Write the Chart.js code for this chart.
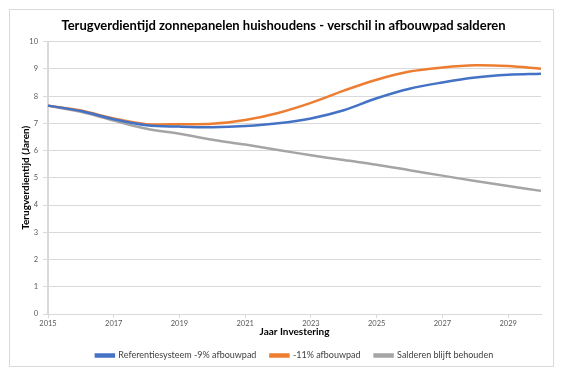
<!DOCTYPE html>
<html>
<head>
<meta charset="utf-8">
<script src="https://cdn.jsdelivr.net/npm/chart.js@4/dist/chart.umd.min.js"></script>
<style>
  html, body { margin: 0; padding: 0; background: #fff; }
  #frame {
    position: absolute; left: 9px; top: 9px;
    width: 545px; height: 358px;
    border: 1px solid #d9d9d9; box-sizing: border-box;
  }
  #wrap { position: absolute; left: 0; top: 0; width: 543px; height: 356px; }
</style>
</head>
<body>
<div id="frame"><div id="wrap"><canvas id="payback-chart"></canvas></div></div>
<script>
// Data
const years = ['2015', '2016', '2017', '2018', '2019', '2020', '2021', '2022',
               '2023', '2024', '2025', '2026', '2027', '2028', '2029', '2030'];
const referentie9 = [7.65, 7.45, 7.15, 6.93, 6.88, 6.86, 6.90, 7.00,
                     7.18, 7.48, 7.92, 8.27, 8.50, 8.68, 8.78, 8.82];
const afbouw11 = [7.65, 7.47, 7.18, 6.97, 6.97, 6.98, 7.12, 7.38,
                  7.75, 8.20, 8.60, 8.90, 9.05, 9.13, 9.10, 9.00];
const salderenBlijft = [7.65, 7.42, 7.10, 6.80, 6.62, 6.40, 6.22, 6.02,
                        5.83, 5.65, 5.48, 5.28, 5.08, 4.88, 4.70, 4.52];
const yTicks = [0, 1, 2, 3, 4, 5, 6, 7, 8, 9, 10];

function makeChart() {
    const ctx = document.getElementById('payback-chart').getContext('2d');
    const fontFamily = 'Lato, "Open Sans", sans-serif';

    const lineStyle = { borderWidth: 2.5, pointRadius: 0, tension: 0.35, fill: false };

    new Chart(ctx, {
        type: 'line',
        data: {
            labels: years,
            datasets: [
                Object.assign({ label: 'Referentiesysteem -9% afbouwpad', data: referentie9,
                    borderColor: '#4472C4', backgroundColor: '#4472C4' }, lineStyle),
                Object.assign({ label: '-11% afbouwpad', data: afbouw11,
                    borderColor: '#ED7D31', backgroundColor: '#ED7D31' }, lineStyle),
                Object.assign({ label: 'Salderen blijft behouden', data: salderenBlijft,
                    borderColor: '#A5A5A5', backgroundColor: '#A5A5A5' }, lineStyle)
            ]
        },
        options: {
            responsive: true,
            maintainAspectRatio: false,
            animation: false,
            layout: { padding: { left: 16, right: 12, top: 4, bottom: -4 } },
            plugins: {
                title: {
                    display: true,
                    text: 'Terugverdientijd zonnepanelen huishoudens - verschil in afbouwpad salderen',
                    color: '#000',
                    font: { family: fontFamily, size: 13, weight: 'bold' },
                    padding: { top: 4, bottom: 8 }
                },
                legend: {
                    position: 'bottom',
                    fullSize: false,
                    labels: {
                        color: '#404040',
                        font: { family: fontFamily, size: 9 },
                        boxWidth: 18, boxHeight: 2,
                        padding: 14
                    }
                },
                tooltip: { enabled: false }
            },
            scales: {
                x: {
                    offset: false,
                    grid: {
                        display: true, drawOnChartArea: false, tickLength: 4,
                        color: function (c) { return c.index % 2 === 0 ? '#d9d9d9' : 'rgba(0,0,0,0)'; }
                    },
                    border: { color: '#d9d9d9' },
                    ticks: {
                        autoSkip: false, maxRotation: 0, padding: 1,
                        color: '#595959',
                        font: { family: fontFamily, size: 7.5 },
                        callback: function (v, i) { return i % 2 === 0 ? years[i] : ''; }
                    },
                    title: {
                        display: true, text: 'Jaar Investering', color: '#000',
                        font: { family: fontFamily, size: 10, weight: 'bold', lineHeight: 1 },
                        padding: { top: -2, bottom: 0 }
                    }
                },
                y: {
                    min: 0, max: 10,
                    afterBuildTicks: function (axis) { axis.ticks = yTicks.map(v => ({ value: v })); },
                    afterFit: function (axis) { axis.width = 22; },
                    grid: { color: '#d9d9d9', drawTicks: true, tickLength: 5 },
                    border: { color: '#d9d9d9', width: 2 },
                    ticks: {
                        color: '#595959', padding: 5,
                        font: { family: fontFamily, size: 7.5 }
                    },
                    title: {
                        display: true, text: 'Terugverdientijd (Jaren)', color: '#000',
                        font: { family: fontFamily, size: 10, weight: 'bold' },
                        padding: { top: -6, bottom: 0 }
                    }
                }
            }
        }
    });
}

window.onload = makeChart;
</script>
</body>
</html>
